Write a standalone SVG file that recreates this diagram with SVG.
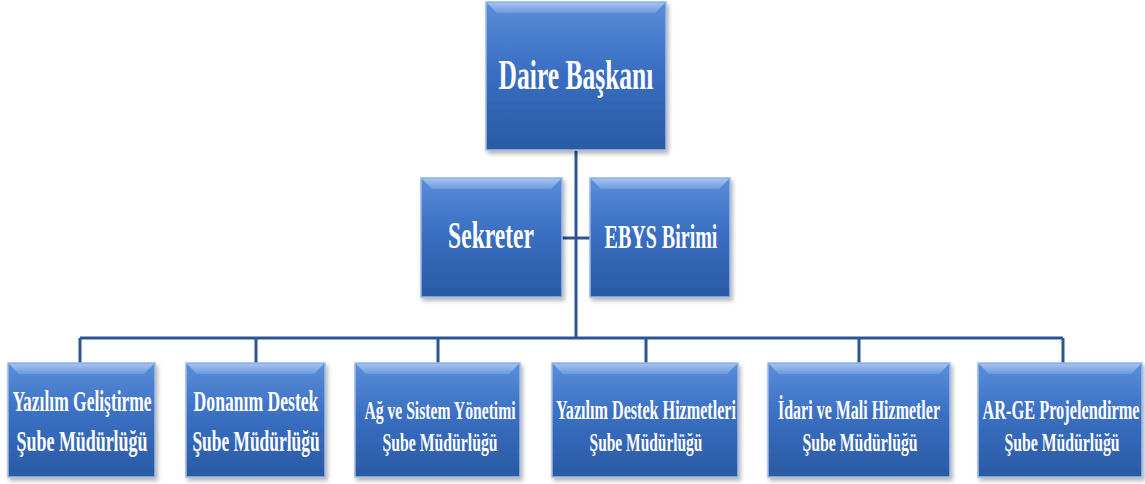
<svg xmlns="http://www.w3.org/2000/svg" width="1145" height="484" viewBox="0 0 1145 484">
<defs>
<linearGradient id="fill" x1="0" y1="0" x2="0" y2="1">
<stop offset="0" stop-color="#5b8ed9"/>
<stop offset="0.45" stop-color="#3a6fc3"/>
<stop offset="1" stop-color="#2a5aa3"/>
</linearGradient>
<linearGradient id="bev" x1="0" y1="0" x2="0" y2="1">
<stop offset="0" stop-color="#b0cbf2"/>
<stop offset="1" stop-color="#6f9de0"/>
</linearGradient>
<filter id="sh" x="-10%" y="-10%" width="130%" height="130%">
<feDropShadow dx="2" dy="3" stdDeviation="2" flood-color="#000" flood-opacity="0.3"/>
</filter>
</defs>
<style>
.box{fill:url(#fill);stroke:#9dbbe8;stroke-width:1.5;filter:url(#sh)}
.bevel{fill:url(#bev);opacity:0.85}
.t{font-family:"Liberation Serif","Times New Roman",serif;font-weight:bold;fill:#ffffff;text-anchor:middle}
.conn{fill:none;stroke:#2c5591;stroke-width:3}
</style>
<rect width="1145" height="484" fill="#ffffff"/>
<g id="connectors">
<path class="conn" d="M576 150 V338 M562 238 H590 M80 338 H1063 M80 338 V363 M256 338 V363 M438 338 V363 M646 338 V363 M859 338 V363 M1063 338 V363"/>
</g>
<g id="daire-baskani">
<rect class="box" x="486" y="2" width="180" height="148"/>
<polygon class="bevel" points="487,3 665,3 655,13 497,13"/>
<text class="t" transform="translate(576 89) scale(0.6 1)" font-size="42" textLength="258" lengthAdjust="spacingAndGlyphs">Daire Başkanı</text>
</g>
<g id="sekreter">
<rect class="box" x="421" y="178" width="141" height="119"/>
<polygon class="bevel" points="422,179 561,179 551,189 432,189"/>
<text class="t" transform="translate(491 248) scale(0.6 1)" font-size="38" textLength="143" lengthAdjust="spacingAndGlyphs">Sekreter</text>
</g>
<g id="ebys">
<rect class="box" x="590" y="178" width="140" height="119"/>
<polygon class="bevel" points="591,179 729,179 719,189 601,189"/>
<text class="t" transform="translate(661 248) scale(0.6 1)" font-size="33.5" textLength="188" lengthAdjust="spacingAndGlyphs">EBYS Birimi</text>
</g>
<g id="yazilim-gelistirme">
<rect class="box" x="8" y="363" width="147" height="114"/>
<polygon class="bevel" points="9,364 154,364 144,374 19,374"/>
<text class="t" transform="translate(82 411) scale(0.6 1)" font-size="28.5" textLength="232" lengthAdjust="spacingAndGlyphs">Yazılım Geliştirme</text>
<text class="t" transform="translate(82 451) scale(0.6 1)" font-size="29.5" textLength="218" lengthAdjust="spacingAndGlyphs">Şube Müdürlüğü</text>
</g>
<g id="donanim-destek">
<rect class="box" x="186" y="363" width="139" height="114"/>
<polygon class="bevel" points="187,364 324,364 314,374 197,374"/>
<text class="t" transform="translate(256 411) scale(0.6 1)" font-size="29.5" textLength="208" lengthAdjust="spacingAndGlyphs">Donanım Destek</text>
<text class="t" transform="translate(256 451) scale(0.6 1)" font-size="29" textLength="212" lengthAdjust="spacingAndGlyphs">Şube Müdürlüğü</text>
</g>
<g id="ag-sistem">
<rect class="box" x="355" y="363" width="165" height="114"/>
<polygon class="bevel" points="356,364 519,364 509,374 366,374"/>
<text class="t" transform="translate(440 419) scale(0.6 1)" font-size="26" textLength="252" lengthAdjust="spacingAndGlyphs">Ağ ve Sistem Yönetimi</text>
<text class="t" transform="translate(440 451) scale(0.6 1)" font-size="26" textLength="192" lengthAdjust="spacingAndGlyphs">Şube Müdürlüğü</text>
</g>
<g id="yazilim-destek">
<rect class="box" x="552" y="363" width="186" height="114"/>
<polygon class="bevel" points="553,364 737,364 727,374 563,374"/>
<text class="t" transform="translate(646 419) scale(0.6 1)" font-size="26.5" textLength="300" lengthAdjust="spacingAndGlyphs">Yazılım Destek Hizmetleri</text>
<text class="t" transform="translate(646 451) scale(0.6 1)" font-size="26" textLength="188" lengthAdjust="spacingAndGlyphs">Şube Müdürlüğü</text>
</g>
<g id="idari-mali">
<rect class="box" x="768" y="363" width="182" height="114"/>
<polygon class="bevel" points="769,364 949,364 939,374 779,374"/>
<text class="t" transform="translate(859 419) scale(0.6 1)" font-size="26.5" textLength="270" lengthAdjust="spacingAndGlyphs">İdari ve Mali Hizmetler</text>
<text class="t" transform="translate(860 451) scale(0.6 1)" font-size="26" textLength="192" lengthAdjust="spacingAndGlyphs">Şube Müdürlüğü</text>
</g>
<g id="ar-ge">
<rect class="box" x="978" y="363" width="164" height="114"/>
<polygon class="bevel" points="979,364 1141,364 1131,374 989,374"/>
<text class="t" transform="translate(1061 419) scale(0.6 1)" font-size="27" textLength="262" lengthAdjust="spacingAndGlyphs">AR-GE Projelendirme</text>
<text class="t" transform="translate(1062 451) scale(0.6 1)" font-size="26" textLength="192" lengthAdjust="spacingAndGlyphs">Şube Müdürlüğü</text>
</g>
</svg>
